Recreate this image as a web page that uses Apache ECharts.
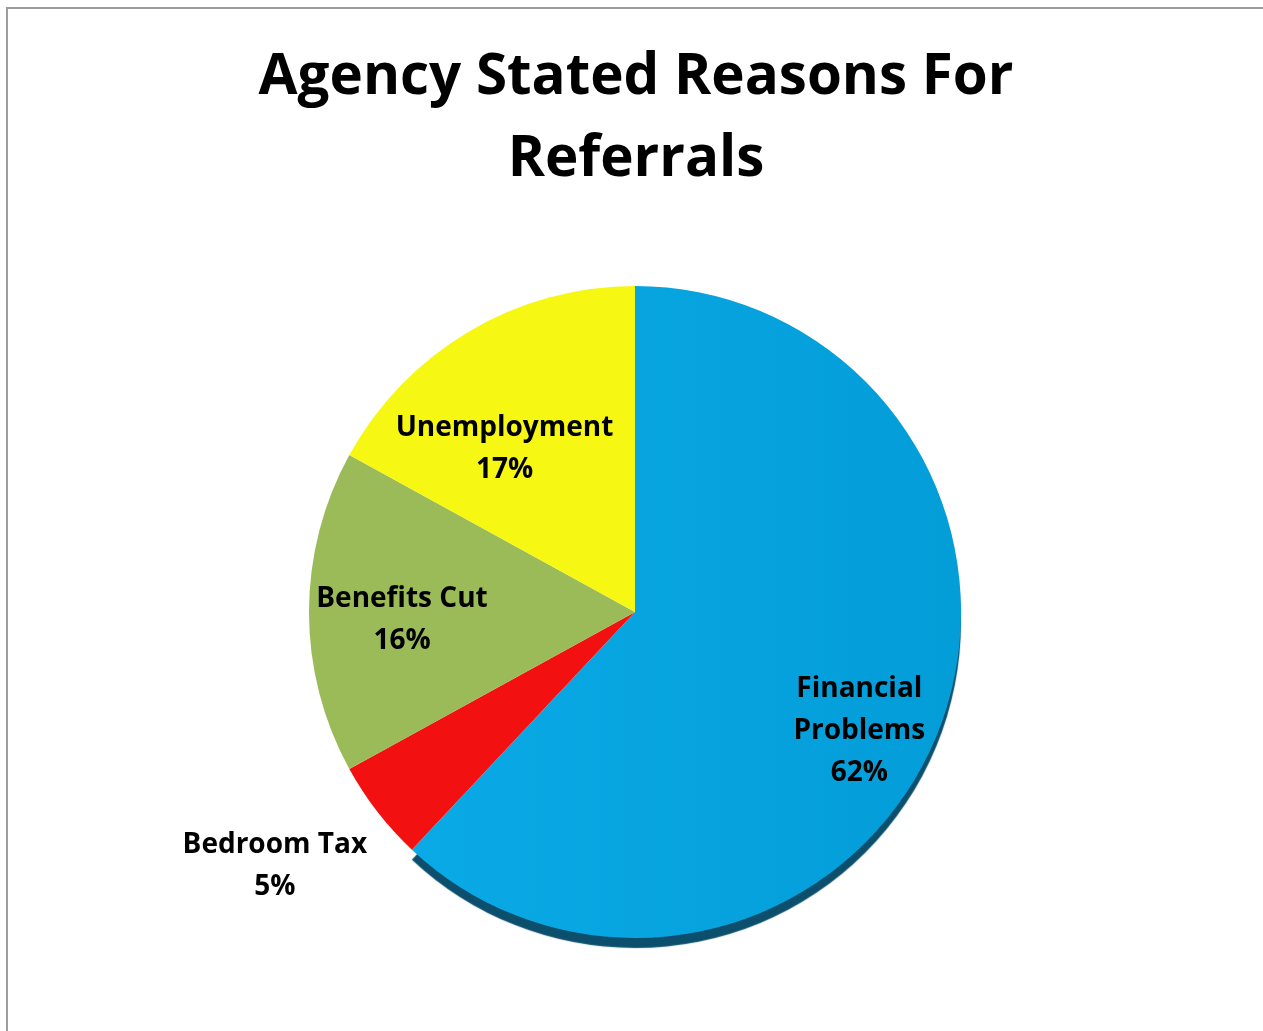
<!DOCTYPE html>
<html>
<head>
<meta charset="utf-8">
<script src="https://cdn.jsdelivr.net/npm/echarts@6/dist/echarts.min.js"></script>
<style>
html,body{margin:0;padding:0;background:#fff;overflow:hidden;}
#frame{position:absolute;left:6px;top:7px;width:1300px;height:1100px;border-left:2px solid #9c9c9c;border-top:2px solid #9c9c9c;}
#chart{position:absolute;left:0;top:0;width:1263px;height:1031px;}
</style>
</head>
<body>
<div id="frame"></div>
<div id="chart"></div>
<script>
const titleText = 'Agency Stated Reasons For\nReferrals';
const categories = ['Financial\nProblems', 'Bedroom Tax', 'Benefits Cut', 'Unemployment'];
const values = [62, 5, 16, 17];
const colors = ['#07a5e2', '#f31010', '#9bbb59', '#f7f714'];
// label nudges (px) relative to the default inside position
const labelDx = [70, -229, -67, -46];
const labelDy = [58, 152, 8, -20];

const chart = echarts.init(document.getElementById('chart'), null, {renderer: 'canvas'});
const data = categories.map((c, i) => {
  const item = {name: c, value: values[i], itemStyle: {color: colors[i]}};
  if (i === 0) {
    item.itemStyle = {
      color: new echarts.graphic.LinearGradient(0, 0, 1, 0, [
        {offset: 0, color: '#0aaae6'},
        {offset: 1, color: '#039dd8'}
      ]),
      shadowColor: '#0b4f6c',
      shadowOffsetY: 10,
      shadowOffsetX: 0,
      shadowBlur: 1
    };
  }
  return item;
});

chart.setOption({
  animation: false,
  title: {
    text: titleText,
    left: 631,
    textAlign: 'center',
    top: 32,
    textStyle: {fontFamily: 'Open Sans', fontWeight: 'bold', fontSize: 56.5, color: '#000', lineHeight: 82, align: 'center'}
  },
  series: [{
    type: 'pie',
    center: [635, 612],
    radius: [0, 326],
    startAngle: 90,
    clockwise: true,
    data: data,
    label: {
      show: true,
      position: 'inside',
      formatter: p => p.name + '\n' + p.value + '%',
      fontFamily: 'Open Sans',
      fontWeight: 'bold',
      fontSize: 28,
      lineHeight: 42,
      color: '#000',
      align: 'center'
    },
    labelLine: {show: false},
    labelLayout: function (params) {
      const i = params.dataIndex;
      return {dx: labelDx[i], dy: labelDy[i]};
    },
    emphasis: {disabled: true}
  }]
});
</script>
</body>
</html>
